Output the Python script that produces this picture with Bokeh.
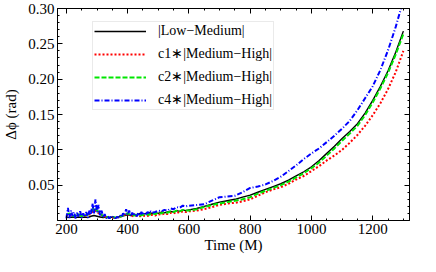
from bokeh.plotting import figure
from bokeh.models import (ColumnDataSource, FixedTicker, LinearAxis, Legend, LegendItem,
                          NumeralTickFormatter, Range1d)
from bokeh.embed import file_html
from bokeh.resources import INLINE

# ---- data ----
time = [200, 210, 220, 230, 240, 250, 260, 270, 280, 290,
        300, 310, 320, 330, 340, 350, 360, 370, 380, 390,
        400, 410, 420, 430, 440, 450, 460, 470, 480, 490,
        500, 510, 520, 530, 540, 550, 560, 570, 580, 590,
        600, 625, 650, 675, 700, 725, 750, 775, 800, 825,
        850, 875, 900, 925, 950, 975, 1000, 1025, 1050, 1075,
        1100, 1125, 1150, 1175, 1200, 1225, 1250, 1275, 1300]

low_medium = [0.005, 0.004, 0.005, 0.004, 0.005, 0.004, 0.005, 0.004, 0.006, 0.007,
              0.006, 0.005, 0.004, 0.005, 0.004, 0.005, 0.004, 0.005, 0.006, 0.007,
              0.008, 0.007, 0.009, 0.008, 0.010, 0.009, 0.010, 0.011, 0.010, 0.011,
              0.010, 0.012, 0.011, 0.012, 0.013, 0.012, 0.014, 0.013, 0.015, 0.014,
              0.015, 0.017, 0.020, 0.023, 0.026, 0.028, 0.030, 0.033, 0.036, 0.040,
              0.044, 0.048, 0.052, 0.057, 0.063, 0.069, 0.076, 0.085, 0.095, 0.105,
              0.116, 0.126, 0.137, 0.152, 0.170, 0.190, 0.212, 0.238, 0.268]

c1_medium_high = [0.007, 0.009, 0.006, 0.006, 0.008, 0.006, 0.007, 0.007, 0.010, 0.015,
                  0.012, 0.009, 0.006, 0.005, 0.004, 0.004, 0.004, 0.005, 0.006, 0.008,
                  0.009, 0.007, 0.006, 0.007, 0.006, 0.007, 0.006, 0.007, 0.008, 0.007,
                  0.009, 0.008, 0.010, 0.009, 0.011, 0.010, 0.012, 0.011, 0.013, 0.012,
                  0.013, 0.014, 0.016, 0.019, 0.022, 0.024, 0.025, 0.027, 0.030, 0.035,
                  0.040, 0.044, 0.047, 0.052, 0.058, 0.063, 0.070, 0.077, 0.085, 0.092,
                  0.100, 0.110, 0.121, 0.134, 0.149, 0.166, 0.186, 0.210, 0.240]

c2_medium_high = [0.008, 0.010, 0.006, 0.007, 0.009, 0.006, 0.007, 0.008, 0.012, 0.018,
                  0.014, 0.010, 0.006, 0.005, 0.004, 0.005, 0.004, 0.005, 0.006, 0.009,
                  0.010, 0.008, 0.007, 0.008, 0.007, 0.008, 0.009, 0.008, 0.010, 0.009,
                  0.011, 0.010, 0.012, 0.011, 0.013, 0.012, 0.014, 0.013, 0.015, 0.014,
                  0.014, 0.016, 0.019, 0.022, 0.024, 0.026, 0.028, 0.030, 0.033, 0.038,
                  0.042, 0.046, 0.050, 0.055, 0.061, 0.067, 0.074, 0.082, 0.092, 0.102,
                  0.113, 0.123, 0.134, 0.149, 0.167, 0.187, 0.209, 0.235, 0.264]

# c4 is very noisy at early times, so it is sampled more finely there
time_c4 = [200, 205, 210, 215, 220, 225, 230, 235, 240, 245,
           250, 255, 260, 265, 270, 275, 280, 285, 290, 295,
           300, 305, 310, 315, 320, 325, 330, 335, 340, 345,
           350, 355, 360, 365, 370, 375, 380, 385, 390, 395,
           400, 405, 410, 415, 420, 425, 430, 435, 440, 445,
           450, 455, 460, 465, 470, 475, 480, 490, 500, 510,
           520, 530, 540, 550, 560, 570, 580, 590, 600, 625,
           650, 675, 700, 725, 750, 775, 800, 825, 850, 875,
           900, 925, 950, 975, 1000, 1025, 1050, 1075, 1100, 1125,
           1150, 1175, 1200, 1225, 1250, 1275, 1300]

c4_medium_high = [0.003, 0.018, 0.004, 0.014, 0.006, 0.012, 0.003, 0.011, 0.005, 0.013,
                  0.004, 0.010, 0.005, 0.012, 0.004, 0.014, 0.008, 0.024, 0.010, 0.030,
                  0.012, 0.022, 0.006, 0.014, 0.004, 0.009, 0.003, 0.006, 0.003, 0.005,
                  0.004, 0.006, 0.003, 0.005, 0.004, 0.007, 0.005, 0.010, 0.007, 0.016,
                  0.008, 0.014, 0.006, 0.011, 0.007, 0.010, 0.006, 0.011, 0.007, 0.012,
                  0.008, 0.011, 0.009, 0.012, 0.010, 0.013, 0.011, 0.012, 0.014, 0.013,
                  0.015, 0.014, 0.017, 0.016, 0.019, 0.018, 0.021, 0.020, 0.021, 0.022,
                  0.023, 0.028, 0.033, 0.034, 0.035, 0.040, 0.046, 0.048, 0.051, 0.056,
                  0.062, 0.070, 0.078, 0.087, 0.095, 0.102, 0.111, 0.120, 0.130, 0.141,
                  0.156, 0.173, 0.190, 0.213, 0.241, 0.274, 0.312]

x_major = [200, 400, 600, 800, 1000, 1200]
x_minor = [200, 250, 300, 350, 400, 450, 500, 550, 600, 650, 700, 750, 800, 850,
           900, 950, 1000, 1050, 1100, 1150, 1200, 1250, 1300]
y_major = [0.05, 0.10, 0.15, 0.20, 0.25, 0.30]
y_minor = [0.01, 0.02, 0.03, 0.04, 0.05, 0.06, 0.07, 0.08, 0.09, 0.10, 0.11, 0.12, 0.13,
           0.14, 0.15, 0.16, 0.17, 0.18, 0.19, 0.20, 0.21, 0.22, 0.23, 0.24, 0.25, 0.26,
           0.27, 0.28, 0.29]

labels = ["|Low\u2212Medium|", "c1\u2217|Medium\u2212High|",
          "c2\u2217|Medium\u2212High|", "c4\u2217|Medium\u2212High|"]

FONT = "Liberation Serif"

src = ColumnDataSource(dict(t=time, k=low_medium, r=c1_medium_high, g=c2_medium_high))
src_b = ColumnDataSource(dict(t=time_c4, b=c4_medium_high))

p = figure(width=420, height=256, output_backend="svg", toolbar_location=None,
           x_range=Range1d(171, 1320), y_range=Range1d(0.0, 0.30),
           min_border_left=56, min_border_right=11, min_border_top=8,
           min_border_bottom=36)

p.background_fill_color = "white"
p.border_fill_color = "white"
p.outline_line_color = "black"
p.outline_line_width = 1
p.grid.visible = False

r_k = p.line("t", "k", source=src, color="black", line_width=1.4)
r_r = p.line("t", "r", source=src, color="#ff0000", line_width=2, line_dash="2 2")
r_g = p.line("t", "g", source=src, color="#00e600", line_width=2, line_dash="5 2")
r_b = p.line("t", "b", source=src_b, color="#0000ff", line_width=2, line_dash="5 2 1 2")

def style_axis(ax, show_labels):
    ax.axis_line_color = "black"
    ax.major_tick_in = 5
    ax.major_tick_out = 0
    ax.minor_tick_in = 2
    ax.minor_tick_out = 0
    ax.major_tick_line_color = "black"
    ax.minor_tick_line_color = "black"
    ax.major_label_text_font = FONT
    ax.axis_label_text_font = FONT
    ax.axis_label_text_font_style = "normal"
    ax.axis_label_text_font_size = "15px"
    if show_labels:
        ax.major_label_text_font_size = "15px"
        ax.major_label_text_color = "black"
    else:
        ax.major_label_text_font_size = "1px"
        ax.major_label_text_color = None
    ax.axis_label_text_color = "black"

xa = p.xaxis[0]
ya = p.yaxis[0]
xa.ticker = FixedTicker(ticks=x_major, minor_ticks=x_minor)
ya.ticker = FixedTicker(ticks=y_major, minor_ticks=y_minor)
ya.formatter = NumeralTickFormatter(format="0.00")
style_axis(xa, True)
style_axis(ya, True)
xa.axis_label = "Time (M)"
ya.axis_label = "\u0394\u03d5 (rad)"
xa.major_label_standoff = 3
xa.axis_label_standoff = 0
ya.major_label_standoff = 3
ya.axis_label_standoff = 6

xt = LinearAxis(ticker=FixedTicker(ticks=x_major, minor_ticks=x_minor))
yr = LinearAxis(ticker=FixedTicker(ticks=y_major, minor_ticks=y_minor))
for ax in (xt, yr):
    style_axis(ax, False)
    ax.major_label_standoff = 0
p.add_layout(xt, "above")
p.add_layout(yr, "right")

legend = Legend(items=[LegendItem(label=labels[0], renderers=[r_k]),
                       LegendItem(label=labels[1], renderers=[r_r]),
                       LegendItem(label=labels[2], renderers=[r_g]),
                       LegendItem(label=labels[3], renderers=[r_b])],
                location=(35, 110))
legend.label_text_font = FONT
legend.label_text_font_size = "14px"
legend.label_text_color = "black"
legend.glyph_width = 52
legend.glyph_height = 16
legend.label_height = 16
legend.label_standoff = 12
legend.spacing = 6
legend.padding = 1
legend.margin = 0
legend.border_line_color = "#d6d6d6"
legend.border_line_width = 1
legend.background_fill_color = "white"
legend.background_fill_alpha = 1.0
p.add_layout(legend, "center")

open("out.html", "w").write(file_html(p, INLINE))
